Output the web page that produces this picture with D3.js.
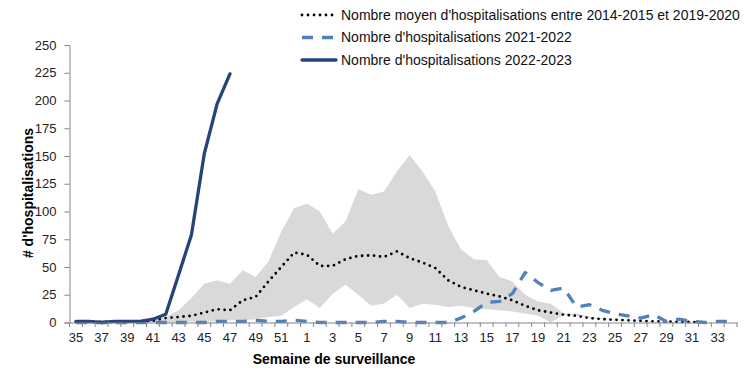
<!DOCTYPE html>
<html>
<head>
<meta charset="utf-8">
<script src="https://d3js.org/d3.v7.min.js"></script>
<style>
  body { margin: 0; background: #fff; }
  text { font-family: "Liberation Sans", Arial, sans-serif; }
</style>
</head>
<body>
<svg id="chart" width="756" height="378"></svg>

<script>
// surveillance weeks, 35 to 52 then 1 to 34
const weeks = [35, 36, 37, 38, 39, 40, 41, 42, 43, 44, 45, 46, 47, 48, 49, 50, 51, 52,
               1, 2, 3, 4, 5, 6, 7, 8, 9, 10, 11, 12, 13, 14, 15, 16, 17, 18, 19, 20,
               21, 22, 23, 24, 25, 26, 27, 28, 29, 30, 31, 32, 33, 34];

// average 2014-2015 to 2019-2020
const avgHosp = [0.5, 0.5, 0.5, 0.5, 1, 1, 1.5, 4, 5, 6, 9, 12, 11, 20, 23, 37, 50, 63,
                 61, 51, 51, 57, 60, 60.5, 59, 64, 58, 54, 49, 38, 32, 29, 26, 23.5, 20, 15,
                 11, 9, 7, 6, 4, 3, 2.5, 2, 1.5, 1, 1, 0.5, 0.5, 0, null, null];
// min / max of the same seasons (grey band)
const minHosp = [0, 0, 0, 0, 0, 0, 0, 0, 0, 1, 1, 1, 2, 2, 3, 5, 6, 14,
                 21, 13, 26, 34, 25, 15, 17, 25, 13, 17, 16, 14, 15, 13, 12, 11, 10, 8,
                 6, 0, 7, 6, 4, 3, 2, 1.5, 1, 0.5, 0, 0, 0, 0, null, null];
const maxHosp = [1, 1, 1, 1, 1, 1, 2, 5, 11, 22, 35, 38, 35, 47, 41, 55, 82, 103,
                 107, 100, 80, 91, 120, 115, 118, 136, 151, 136, 118, 87, 66, 57, 56, 41, 37, 25,
                 19, 17, 8, 8, 5, 3.5, 2.5, 2, 1.5, 1, 1, 1, 0.5, 0, null, null];

const hosp2122 = [0, 0, 0, 0, 0, 0, 0, 0, 0, 0, 0, 1, 1, 1, 2, 1, 1, 2,
                  1, 0, 0, 0, 0, 0, 1, 1, 0, 0, 0, 0, 4, 10, 18, 19, 26, 45,
                  36, 29, 31, 14, 16, 11, 8, 6, 4, 7, 1, 3, 1, 0, 1, 1];
const hosp2223 = [1, 1, 0, 1, 1, 1, 3, 7.5, 43, 79, 152, 197, 224];

const yTicks = [0, 25, 50, 75, 100, 125, 150, 175, 200, 225, 250];

const legendItems = [
  {label: "Nombre moyen d'hospitalisations entre 2014-2015 et 2019-2020", key: "avg"},
  {label: "Nombre d'hospitalisations 2021-2022", key: "h2122"},
  {label: "Nombre d'hospitalisations 2022-2023", key: "h2223"}
];

const styles = {
  avg:   {stroke: "#000", width: 2.8, dash: "0,6", cap: "round"},
  h2122: {stroke: "#4F81BD", width: 3.3, dash: "11,9", cap: "butt"},
  h2223: {stroke: "#264478", width: 3.3, dash: null, cap: "round"}
};

const svg = d3.select("#chart");

const x = d3.scaleBand().domain(weeks).range([69.5, 737]);
const y = d3.scaleLinear().domain([0, 250]).range([322.5, 45]);
const cx = i => x(weeks[i]) + x.bandwidth() / 2;

// grey band
const band = d3.area()
  .defined((d, i) => maxHosp[i] != null)
  .x((d, i) => cx(i))
  .y0((d, i) => y(minHosp[i]))
  .y1((d, i) => y(maxHosp[i]));

svg.append("path")
  .attr("d", band(weeks))
  .attr("fill", "#D9D9D9");

const line = d3.line()
  .defined(d => d != null)
  .x((d, i) => cx(i))
  .y(d => y(d));

function drawSeries(data, st) {
  svg.append("path")
    .attr("d", line(data))
    .attr("fill", "none")
    .attr("stroke", st.stroke)
    .attr("stroke-width", st.width)
    .attr("stroke-dasharray", st.dash)
    .attr("stroke-linecap", st.cap)
    .attr("stroke-linejoin", "round");
}

drawSeries(avgHosp, styles.avg);
drawSeries(hosp2122, styles.h2122);
drawSeries(hosp2223, styles.h2223);

// y axis
const yAxis = svg.append("g")
  .attr("transform", "translate(69.5,0)")
  .call(d3.axisLeft(y).tickValues(yTicks).tickSize(5).tickPadding(8));
yAxis.select(".domain").attr("stroke", "#868686");
yAxis.selectAll(".tick line").attr("stroke", "#868686");
yAxis.selectAll(".tick text")
  .attr("fill", "#222")
  .style("font-size", "13px")
  .style("font-family", "'Liberation Sans', Arial, sans-serif");

// x axis: labels on every other week, ticks at category edges
const xAxis = svg.append("g")
  .attr("transform", "translate(0,322.5)")
  .call(d3.axisBottom(x)
    .tickValues(weeks.filter((d, i) => i % 2 === 0))
    .tickSize(0)
    .tickPadding(10)
    .tickSizeOuter(0));
xAxis.select(".domain").attr("stroke", "#868686");
xAxis.selectAll(".tick text")
  .attr("fill", "#222")
  .style("font-size", "13px")
  .style("font-family", "'Liberation Sans', Arial, sans-serif");

const edges = weeks.map(w => x(w)).concat([x.range()[1]]);
svg.append("g")
  .selectAll("line")
  .data(edges)
  .enter()
  .append("line")
  .attr("x1", d => d).attr("x2", d => d)
  .attr("y1", 322.5).attr("y2", 327)
  .attr("stroke", "#868686");

// axis titles
svg.append("text")
  .attr("x", 334).attr("y", 364)
  .attr("text-anchor", "middle")
  .style("font-size", "14px")
  .style("font-weight", "bold")
  .text("Semaine de surveillance");

svg.append("text")
  .attr("transform", "translate(32.5,193) rotate(-90)")
  .attr("text-anchor", "middle")
  .style("font-size", "14px")
  .style("font-weight", "bold")
  .text("# d'hospitalisations");

// legend
const legend = svg.append("g");
legendItems.forEach((item, k) => {
  const st = styles[item.key];
  const ly = 15 + k * 22.5;
  legend.append("line")
    .attr("x1", 302).attr("x2", 336)
    .attr("y1", ly).attr("y2", ly)
    .attr("stroke", st.stroke)
    .attr("stroke-width", st.width)
    .attr("stroke-dasharray", st.dash)
    .attr("stroke-linecap", st.cap);
  legend.append("text")
    .attr("x", 341).attr("y", ly)
    .attr("dy", "0.35em")
    .style("font-size", "14px")
    .attr("fill", "#111")
    .text(item.label);
});
</script>
</body>
</html>
